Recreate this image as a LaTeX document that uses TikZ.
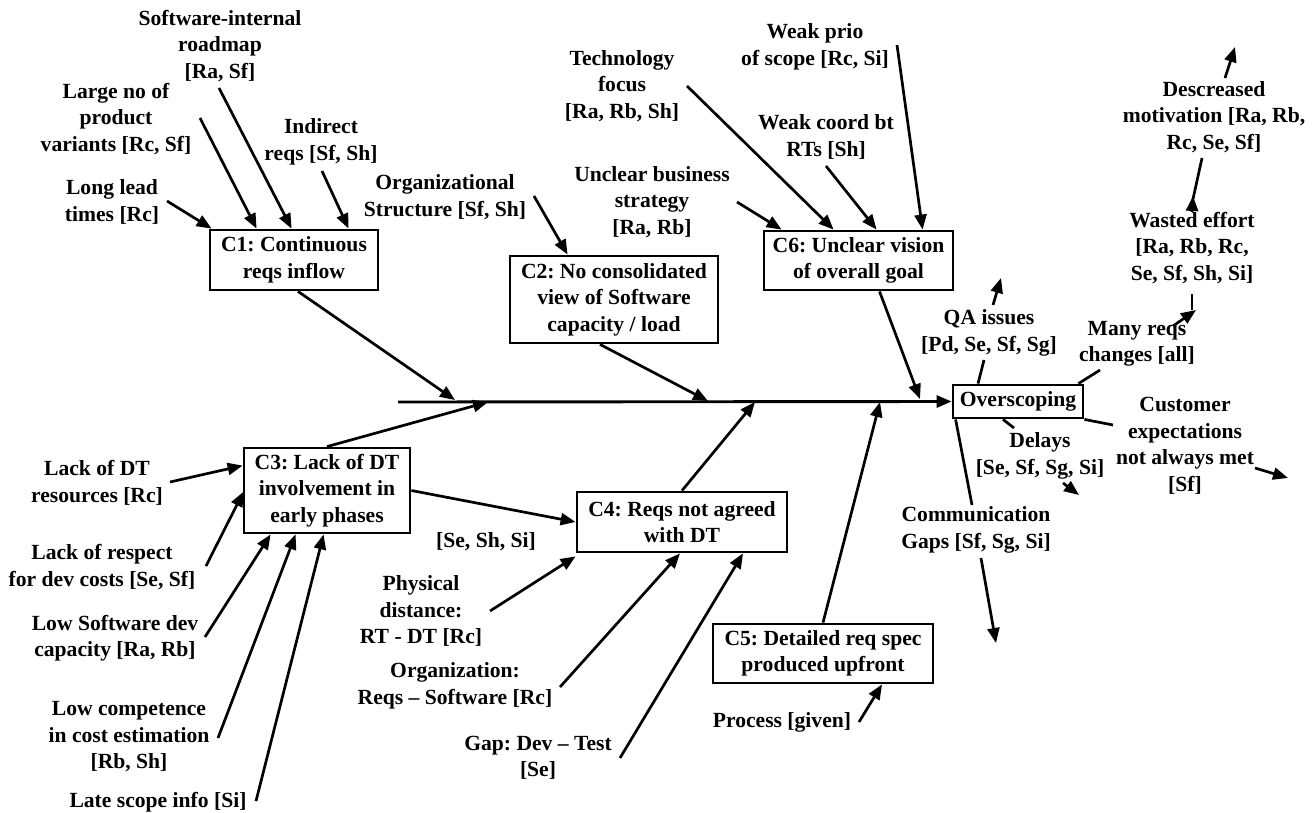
\documentclass[tikz,border=0pt]{standalone}
\usepackage{fontspec}
\setmainfont{Liberation Serif}
\usetikzlibrary{arrows.meta,calc}
\frenchspacing
\begin{document}
\begin{tikzpicture}[x=1pt,y=-1pt,
  lbl/.style={font=\fontsize{21.6}{26.5}\selectfont\bfseries, align=center, inner sep=0pt},
  cbox/.style={draw, line width=2.8pt, font=\fontsize{21.6}{26.5}\selectfont\bfseries, align=center, inner sep=0pt},
  arr/.style={line width=2.7pt, -{Triangle[length=15pt,width=12pt]}},
  ln/.style={line width=2.7pt},
  spine/.style={line width=2.9pt, -{Triangle[length=15pt,width=12pt]}}]
\useasboundingbox (0,0) rectangle (1316,813);
% boxes
\node[cbox, minimum width=168pt, minimum height=60pt] (c1) at (294,260) {C1: Continuous\\reqs inflow};
\node[cbox, minimum width=208pt, minimum height=87pt] (c2) at (614,299.5) {C2: No consolidated\\view of Software\\capacity / load};
\node[cbox, minimum width=189pt, minimum height=59pt] (c6) at (858.5,260.5) {C6: Unclear vision\\of overall goal};
\node[cbox, minimum width=166pt, minimum height=85pt] (c3) at (327,490.5) {C3: Lack of DT\\involvement in\\early phases};
\node[cbox, minimum width=210pt, minimum height=60pt] (c4) at (682,522) {C4: Reqs not agreed\\with DT};
\node[cbox, minimum width=220pt, minimum height=59pt] (c5) at (823,653.5) {C5: Detailed req spec\\produced upfront};
\node[cbox, minimum width=130pt, minimum height=33pt] (ov) at (1018,401.5) {Overscoping};
% spine
\coordinate (s0) at (398,402);
\coordinate (s1) at (455,400);
\coordinate (s3) at (488,402);
\coordinate (s2) at (708,401);
\coordinate (s4) at (755,402);
\coordinate (s5) at (880,402);
\coordinate (s6) at (920,399);
\draw[spine] (s0) -- (ov.west);
% cause labels
\node[lbl] (ll) at (112,202) {Long lead\\times [Rc]};
\node[lbl] (lv) at (116,119) {Large no of\\product\\variants [Rc, Sf]};
\node[lbl] (sr) at (220,46) {Software-internal\\roadmap\\{[Ra, Sf]}};
\node[lbl] (ir) at (321,142) {Indirect\\reqs [Sf, Sh]};
\node[lbl] (os) at (445,197) {Organizational\\Structure [Sf, Sh]};
\node[lbl] (ub) at (652,202) {Unclear business\\strategy\\{[Ra, Rb]}};
\node[lbl] (tf) at (622,86) {Technology\\focus\\{[Ra, Rb, Sh]}};
\node[lbl] (wc) at (826,137) {Weak coord bt\\RTs [Sh]};
\node[lbl] (wp) at (815,47) {Weak prio\\of scope [Rc, Si]};
\node[lbl] (ld) at (97,483) {Lack of DT\\resources [Rc]};
\node[lbl] (lr) at (102,567) {Lack of respect\\for dev costs [Se, Sf]};
\node[lbl] (ls) at (115,638) {Low Software dev\\capacity [Ra, Rb]};
\node[lbl] (lc) at (129,737) {Low competence\\in cost estimation\\{[Rb, Sh]}};
\node[lbl] (lsi) at (158,802) {Late scope info [Si]};
\node[lbl] (ssi) at (486,542) {[Se, Sh, Si]};
\node[lbl] (pd) at (421,611) {Physical\\distance:\\RT - DT [Rc]};
\node[lbl] (org) at (455,686) {Organization:\\Reqs – Software [Rc]};
\node[lbl] (gap) at (538,758) {Gap: Dev – Test\\{[Se]}};
\node[lbl] (pg) at (782,722) {Process [given]};
% effect labels
\node[lbl] (qa) at (989,333) {QA issues\\{[Pd, Se, Sf, Sg]}};
\node[lbl] (mr) at (1137,344) {Many reqs\\changes [all]};
\node[lbl] (we) at (1192,248) {Wasted effort\\{[Ra, Rb, Rc,}\\Se, Sf, Sh, Si]};
\node[lbl] (dm) at (1214,117) {Descreased\\motivation [Ra, Rb,\\Rc, Se, Sf]};
\node[lbl] (dl) at (1040,456) {Delays\\{[Se, Sf, Sg, Si]}};
\node[lbl] (cu) at (1185,446) {Customer\\expectations\\not always met\\{[Sf]}};
\node[lbl] (cm) at (976,530) {Communication\\Gaps [Sf, Sg, Si]};
% cause arrows C1
\draw[arr] ($(ll)+(55,-1)$) -- ($(c1.north west)+(3,0)$);
\draw[arr] ($(lv)+(84,-1)$) -- ($(c1.north west)+(48,0)$);
\draw[arr] ($(sr)+(-1,42)$) -- ($(c1.north west)+(83,0)$);
\draw[arr] ($(ir)+(1,29)$) -- ($(c1.north west)+(140,0)$);
% C2
\draw[arr] ($(os)+(89,-1)$) -- ($(c2.north west)+(59,0)$);
% C6
\draw[arr] ($(ub)+(85,0)$) -- ($(c6.north west)+(19,0)$);
\draw[arr] ($(tf)+(65,0)$) -- ($(c6.north west)+(71,0)$);
\draw[arr] ($(wc)+(0,29)$) -- ($(c6.north west)+(114,0)$);
\draw[arr] ($(wp)+(82,-2)$) -- ($(c6.north west)+(160,0)$);
% C3
\draw[arr] ($(ld)+(73,-1)$) -- ($(c3.north west)+(0,19)$);
\draw[arr] ($(lr)+(104,-1)$) -- ($(c3.north west)+(1,45)$);
\draw[arr] ($(ls)+(90,-1)$) -- ($(c3.south west)+(28,0)$);
\draw[arr] ($(lc)+(89,1)$) -- ($(c3.south west)+(53,0)$);
\draw[arr] ($(lsi)+(98,-1)$) -- ($(c3.south west)+(81,0)$);
% C4
\draw[arr] (c3.east) -- (c4.west);
\draw[arr] ($(pd)+(69,0)$) -- ($(c4.south west)+(0,3)$);
\draw[arr] ($(org)+(105,1)$) -- ($(c4.south)+(-2,0)$);
\draw[arr] ($(gap)+(82,0)$) -- ($(c4.south)+(61,0)$);
% C5
\draw[arr] ($(pg)+(77,0)$) -- ($(c5.south)+(59,0)$);
% boxes to spine
\draw[arr] ($(c1.south)+(4,0)$) -- (s1);
\draw[arr] (c3.north) -- (s3);
\draw[arr] ($(c2.south)+(-14,0)$) -- (s2);
\draw[arr] (c4.north) -- (s4);
\draw[arr] (c5.north) -- (s5);
\draw[arr] ($(c6.south)+(21,0)$) -- (s6);
% effects
\coordinate (qaend) at (1001,278);
\draw[ln] ($(ov.north)+(-40,0)$) -- ($(qa)+(-5,27)$);
\draw[arr] ($(qa)+(4,-28)$) -- (qaend);
\draw[ln] ($(ov.north east)+(-6,0)$) -- ($(mr)+(-37,26)$);
\draw[arr] ($(mr)+(36,-18)$) -- ($(we)+(4,62)$);
\draw[ln] ($(we)+(0,46)$) -- ($(we)+(0,62)$);
\coordinate (wetop) at (1193,196);
\draw[arr] ($(we)+(0,-36)$) -- (wetop);
\draw[ln] ($(dm)+(-12,41)$) -- ($(wetop)+(0,3)$);
\coordinate (dmend) at (1235,47);
\draw[arr] ($(dm)+(11,-39)$) -- (dmend);
\draw[ln] ($(ov.south)+(-15,0)$) -- ($(dl)+(-26,-28)$);
\coordinate (dlend) at (1079,495);
\draw[arr] ($(dl)+(23,27)$) -- (dlend);
\draw[ln] (ov.south east) -- ($(cu)+(-72,-21)$);
\coordinate (cuend) at (1288,478);
\draw[arr] ($(cu)+(70,22)$) -- (cuend);
\draw[ln] ($(ov.south west)+(4,0)$) -- ($(cm)+(-4,-25)$);
\coordinate (cmend) at (996,643);
\draw[arr] ($(cm)+(5,28)$) -- (cmend);
\end{tikzpicture}
\end{document}
